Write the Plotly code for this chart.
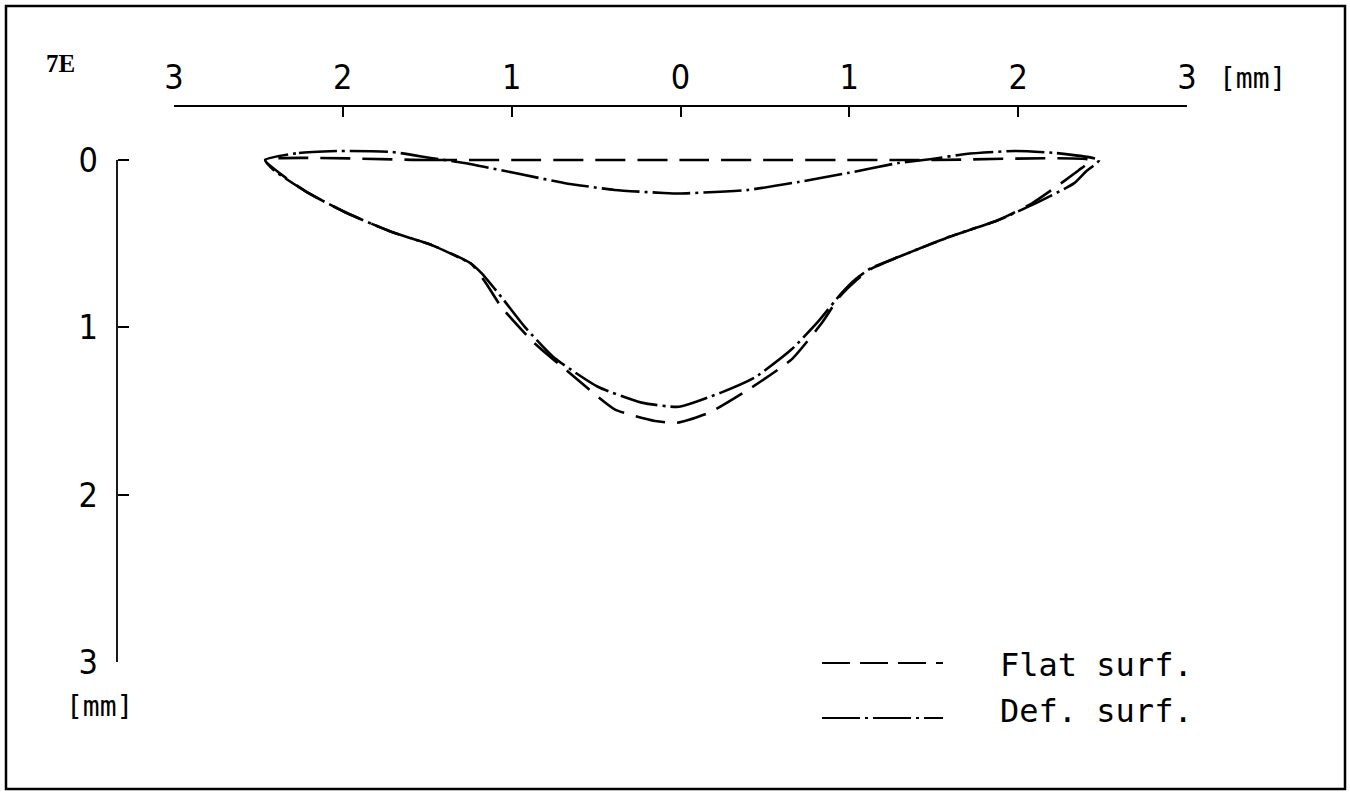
import plotly.graph_objects as go

W, H = 1350, 792

# ---- data (mm): horizontal position and depth ----
flat_x = [-2.46, -1.50, 0.00, 1.50, 2.43, 2.36, 2.28, 2.08, 1.88, 1.59, 1.29, 1.13, 1.04, 0.94, 0.84,
          0.66, 0.42, 0.17, -0.02, -0.15, -0.39, -0.66, -0.87, -1.06, -1.15, -1.24, -1.47, -1.71,
          -1.97, -2.20, -2.36, -2.46]
flat_depth = [0.00, 0.00, 0.00, 0.00, 0.00, 0.06, 0.12, 0.26, 0.36, 0.46, 0.58, 0.65, 0.72, 0.82, 0.97,
              1.19, 1.36, 1.51, 1.57, 1.56, 1.49, 1.27, 1.09, 0.88, 0.74, 0.62, 0.51, 0.43,
              0.32, 0.20, 0.09, 0.00]

def_x = [-2.46, -2.26, -2.01, -1.71, -1.48, -1.28, -0.98, -0.69, -0.39, -0.10, 0.00, 0.40, 0.70, 0.99,
         1.29, 1.49, 1.69, 1.98, 2.22, 2.48, 2.40, 2.33, 2.08, 1.88, 1.59, 1.29, 1.13, 1.04, 0.95,
         0.82, 0.66, 0.44, 0.24, -0.01, -0.23, -0.49, -0.75, -0.92, -1.06, -1.18, -1.24, -1.47,
         -1.71, -1.97, -2.20, -2.41, -2.46]
def_depth = [0.00, -0.042, -0.054, -0.048, -0.012, 0.018, 0.078, 0.137, 0.179, 0.197, 0.20, 0.179, 0.131,
             0.078, 0.018, -0.006, -0.036, -0.054, -0.042, 0.00, 0.07, 0.14, 0.27, 0.36, 0.46, 0.58,
             0.645, 0.71, 0.80, 0.96, 1.13, 1.30, 1.39, 1.475, 1.45, 1.355, 1.18, 1.00, 0.82, 0.675,
             0.62, 0.51, 0.43, 0.32, 0.20, 0.06, 0.00]

x_ticks = [-3, -2, -1, 0, 1, 2, 3]
x_tick_text = ["3", "2", "1", "0", "1", "2", "3"]
y_ticks = [0, 1, 2, 3]
y_tick_text = ["0", "1", "2", "3"]
series_names = ["Flat surf.", "Def. surf."]

DASH = "30px,12px"
DASHDOT = "38px,5px,3px,5px"

def px_x(p):
    return p / W

def px_y(p):
    return (H - p) / H

TICK_FONT = dict(family="DejaVu Sans Condensed, DejaVu Sans", size=34, color="black")
MONO = dict(family="DejaVu Sans Mono", size=32, color="black")

fig = go.Figure()
fig.add_trace(go.Scatter(x=flat_x, y=flat_depth, mode="lines", name=series_names[0],
                         line=dict(color="black", width=2.6, dash=DASH, shape="spline", smoothing=0.5),
                         showlegend=False))
fig.add_trace(go.Scatter(x=def_x, y=def_depth, mode="lines", name=series_names[1],
                         line=dict(color="black", width=2.6, dash=DASHDOT, shape="spline", smoothing=0.5),
                         showlegend=False))

# y: 0 -> 160 px, 3 -> 662 px ; top of range at -0.2
ppm = (662 - 160) / 3.0
y_top_val = -0.2
y_top_px = 160 + y_top_val * ppm

fig.update_layout(
    width=W, height=H,
    margin=dict(l=0, r=0, t=0, b=0, pad=0, autoexpand=False),
    paper_bgcolor="white", plot_bgcolor="white",
    showlegend=False,
    xaxis=dict(domain=[px_x(174), px_x(1187)], range=[-3, 3], autorange=False,
               side="top", anchor="free", position=px_y(106),
               showline=True, linecolor="black", linewidth=1.8,
               ticks="inside", ticklen=10, tickwidth=1.6, tickcolor="black",
               tickvals=x_ticks, ticktext=x_tick_text, tickfont=TICK_FONT,
               ticklabelstandoff=3, showgrid=False, zeroline=False),
    yaxis=dict(domain=[px_y(662), px_y(y_top_px)], range=[3, y_top_val], autorange=False,
               anchor="free", position=px_x(117),
               showline=False,
               ticks="inside", ticklen=11, tickwidth=1.6, tickcolor="black",
               tickvals=y_ticks, ticktext=y_tick_text, tickfont=TICK_FONT,
               ticklabelstandoff=19, showgrid=False, zeroline=False),
)

shapes = [
    # outer frame
    dict(type="rect", xref="paper", yref="paper", x0=px_x(6), x1=px_x(1345), y0=px_y(789), y1=px_y(6),
         line=dict(color="black", width=2.5)),
    # vertical axis line from 0 to 3 mm
    dict(type="line", xref="paper", yref="y", x0=px_x(117), x1=px_x(117), y0=y_ticks[0], y1=y_ticks[-1],
         line=dict(color="black", width=1.8)),
    # legend samples
    dict(type="line", xref="paper", yref="paper", x0=px_x(822), x1=px_x(943), y0=px_y(663), y1=px_y(663),
         line=dict(color="black", width=2, dash="28px,10px")),
    dict(type="line", xref="paper", yref="paper", x0=px_x(822), x1=px_x(943), y0=px_y(718), y1=px_y(718),
         line=dict(color="black", width=2, dash=DASHDOT)),
]
fig.update_layout(shapes=shapes)

annotations = [
    dict(text="7E", x=px_x(44), y=px_y(63), xanchor="left", yanchor="middle", showarrow=False,
         xref="paper", yref="paper", font=dict(family="Liberation Serif", size=25, color="black", weight="bold")),
    dict(text="[mm]", x=px_x(1252), y=px_y(79), xanchor="center", yanchor="middle", showarrow=False,
         xref="paper", yref="paper", font=dict(family="DejaVu Sans Mono", size=28, color="black")),
    dict(text="[mm]", x=px_x(99), y=px_y(706), xanchor="center", yanchor="middle", showarrow=False,
         xref="paper", yref="paper", font=dict(family="DejaVu Sans Mono", size=28, color="black")),
    dict(text=series_names[0], x=px_x(998), y=px_y(665), xanchor="left", yanchor="middle", showarrow=False,
         xref="paper", yref="paper", font=MONO),
    dict(text=series_names[1], x=px_x(998), y=px_y(711), xanchor="left", yanchor="middle", showarrow=False,
         xref="paper", yref="paper", font=MONO),
]
fig.update_layout(annotations=annotations)

fig.write_html(
    "out.html",
    config={"displayModeBar": False},
    post_script="document.body.style.margin='0';document.body.style.padding='0';document.body.style.overflow='hidden';",
)
